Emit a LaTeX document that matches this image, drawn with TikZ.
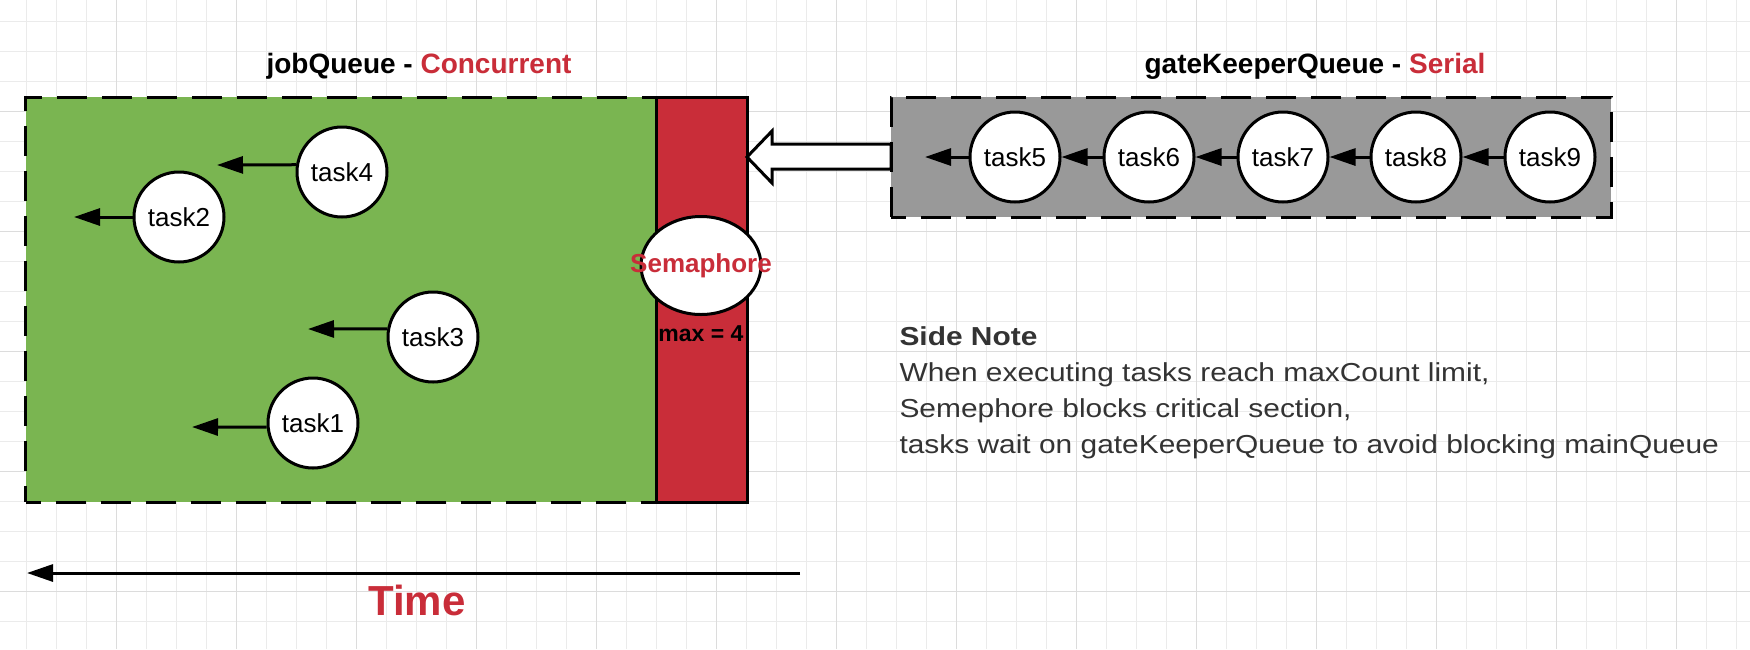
\documentclass[tikz,border=0pt]{standalone}
\usepackage{fontspec}
\setmainfont{Liberation Sans}
\newfontfamily\notefont[FakeStretch=1.15]{Liberation Sans}
\usetikzlibrary{positioning,shapes.geometric,arrows.meta}

\definecolor{lucidgreen}{HTML}{7AB551}
\definecolor{lucidred}{HTML}{C92D39}
\definecolor{queuegrey}{HTML}{999999}
\definecolor{notegrey}{HTML}{333333}
\definecolor{gridminor}{HTML}{EBEBEB}
\definecolor{gridmajor}{HTML}{DCDCDC}
\newcommand{\fsz}[1]{\fontsize{#1}{#1}\selectfont}

\begin{document}
\begin{tikzpicture}[x=1pt,y=-1pt,
      queue/.style={draw,line width=3pt,dash pattern=on 30pt off 15pt,dash phase=15pt,
        inner sep=0pt,outer sep=0pt},
      task/.style={circle,draw,fill=white,line width=3pt,minimum size=90pt,
        inner sep=0pt,font=\fsz{26}},
      flow/.style={-{Triangle[length=26pt,width=17pt]},line width=3pt},
      title/.style={anchor=base,font=\bfseries\fsz{28}}]

      \fill[white] (0,0) rectangle (1750,649);
      \useasboundingbox (0,0) rectangle (1750,649);
      \foreach \x in {26.7,56.7,...,1750} \draw[gridminor,line width=1pt] (\x,0) -- (\x,649);
      \foreach \y in {21.7,51.7,...,649} \draw[gridminor,line width=1pt] (0,\y) -- (1750,\y);
      \foreach \x in {116.7,236.7,...,1750} \draw[gridmajor,line width=1pt] (\x,0) -- (\x,649);
      \foreach \y in {111.7,231.7,...,649} \draw[gridmajor,line width=1pt] (0,\y) -- (1750,\y);

      % jobQueue
      \node[title] (jobTitle) at (419,73) {jobQueue - {\color{lucidred}Concurrent}};
      \node[queue,fill=lucidgreen,minimum width=630.7pt,minimum height=405pt] (jobBox) at (340.85,299.5) {};
      \node[draw,fill=lucidred,line width=3pt,inner sep=0pt,outer sep=0pt,
        minimum width=91pt,minimum height=405pt] (semBar) at (701.5,299.5) {};
      \node[ellipse,draw,fill=white,line width=3pt,minimum width=120pt,minimum height=98pt,
        inner sep=0pt] (semaphore) at (701,265.5)
        {\makebox[0pt]{\fsz{26}\bfseries\color{lucidred}Semaphore}};
      \node[anchor=base,font=\bfseries\fsz{23}] (maxLabel) at (701,341) {max = 4};

      \node[task] (task4) at (342,172) {task4};
      \node[task] (task2) at (179,217) {task2};
      \node[task] (task3) at (433,337) {task3};
      \node[task] (task1) at (313,423) {task1};
      \coordinate (out4) at (217,165);
      \coordinate (out2) at (74,217);
      \coordinate (out3) at (308,329);
      \coordinate (out1) at (192,427);
      \draw[flow] (task4.171) -- (out4);
      \draw[flow] (task2) -- (out2);
      \draw[flow] (task3.170) -- (out3);
      \draw[flow] (task1.185) -- (out1);

      % gateKeeperQueue
      \node[title] (gkTitle) at (1315,73) {gateKeeperQueue - {\color{lucidred}Serial}};
      \node[queue,fill=queuegrey,minimum width=720pt,minimum height=120pt] (gkBox) at (1251,157) {};
      \foreach \i/\x in {5/1015,6/1149,7/1283,8/1416,9/1550}
        \node[task] (task\i) at (\x,157) {task\i};
      \coordinate (out5) at (925,157);
      \draw[flow] (task5) -- (out5);
      \foreach \a/\b in {6/5,7/6,8/7,9/8}
        \draw[flow] (task\a) -- (task\b);

      \draw[line width=3pt,fill=white,line join=miter]
        (semBar.east |- gkBox.west) -- ++(25,-26) -- ++(0,13) -- ([yshift=13pt]gkBox.west)
        -- ([yshift=-12pt]gkBox.west) -- ++(-119,0) -- ++(0,14) -- cycle;

      \node[anchor=base west,align=left,text=notegrey,font=\notefont\fontsize{26}{36}\selectfont] (sideNote) at (896,453)
        {\textbf{Side Note}\\When executing tasks reach maxCount limit,\\Semephore blocks critical section,\\
         tasks wait on gateKeeperQueue to avoid blocking mainQueue};

      % time axis
      \coordinate (timeStart) at (800,573);
      \coordinate (timeEnd) at (27,573);
      \draw[flow] (timeStart) -- (timeEnd);
      \node[anchor=base,text=lucidred,font=\bfseries\fsz{42}] (timeLabel) at (417,615) {Time};

    \end{tikzpicture}
\end{document}
